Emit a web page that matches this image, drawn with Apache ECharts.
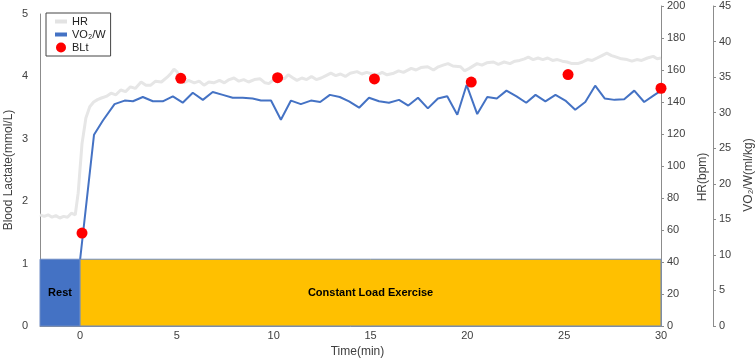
<!DOCTYPE html>
<html>
<head>
<meta charset="utf-8">
<script src="https://cdn.jsdelivr.net/npm/echarts@6/dist/echarts.min.js"></script>
<style>
  html, body { margin: 0; padding: 0; background: #fff; }
  #chart { width: 755px; height: 360px; }
</style>
</head>
<body>
<div id="chart"></div>
<script>
// time (min), heart rate (bpm)
var hrData = [
  [-2.07,69.5],[-1.85,68.5],[-1.65,69.5],[-1.45,68],[-1.25,69],[-1.05,67.5],[-0.85,68.5],[-0.65,68],[-0.45,70.5],[-0.25,69.5],
  [-0.1,83],[0.1,114],[0.3,130],[0.5,137],[0.7,140],[0.9,141.5],[1.1,142.5],[1.35,143.5],[1.6,145.5],[1.85,144.5],
  [2.1,147.5],[2.35,146.5],[2.6,149.5],[2.85,148.5],[3.15,152.5],[3.4,150.5],[3.65,150.5],[3.9,153],[4.2,152.5],[4.5,155.5],
  [4.7,158],[4.85,160.5],[5.0,159],[5.15,156],[5.35,152],[5.6,153.5],[5.9,152],[6.15,153],[6.4,150.5],[6.65,152.5],
  [6.9,152],[7.2,153.5],[7.45,152],[7.7,154],[7.95,155],[8.2,153],[8.45,154],[8.7,152.5],[9.0,154],[9.3,154.5],
  [9.55,152],[9.75,151.5],[10.0,154],[10.3,155.5],[10.55,154.5],[10.75,157],[11.0,155],[11.2,153.5],[11.45,155],[11.7,154],
  [11.95,156],[12.2,154],[12.45,155],[12.7,156.5],[12.95,158],[13.2,156.5],[13.45,157.5],[13.7,156],[13.95,158],[14.3,159],
  [14.55,157.5],[14.8,158.5],[15.1,157.5],[15.35,157],[15.6,158.5],[15.85,157],[16.2,158],[16.45,159.5],[16.7,158.5],[17.1,161],
  [17.35,160],[17.6,161.5],[17.95,162],[18.25,160],[18.5,162],[18.75,163],[19.0,164],[19.25,162.5],[19.65,162],[19.85,159.5],
  [20.1,161],[20.5,164],[20.75,163],[21.0,164.5],[21.35,165],[21.6,163.5],[21.9,165],[22.2,164],[22.45,165.5],[22.7,166],
  [22.95,167],[23.15,168],[23.4,166.5],[23.65,167.5],[23.9,166.5],[24.15,167.5],[24.4,166],[24.65,166.5],[24.9,165.5],[25.15,165],
  [25.4,164],[25.7,164],[25.95,165],[26.2,166.5],[26.45,166],[26.7,167.5],[26.95,169],[27.2,170.5],[27.45,169],[27.7,168],
  [27.95,167],[28.25,166.5],[28.5,165.5],[28.75,166.5],[29.0,166],[29.3,167.5],[29.6,168.5],[29.8,167],[30,167.5]
];

// time (min), VO2/W (ml/kg)
var vo2Data = [
  [0,9.3],[0.72,26.9],[1.18,28.9],[1.78,31.2],[2.3,31.7],[2.73,31.6],[3.24,32.2],[3.76,31.6],[4.27,31.6],[4.79,32.3],
  [5.3,31.4],[5.82,32.8],[6.34,31.8],[6.85,32.9],[7.37,32.5],[7.88,32.1],[8.4,32.1],[8.91,32.0],[9.34,31.7],[9.86,31.7],
  [10.37,29.0],[10.89,31.7],[11.4,31.2],[11.92,31.7],[12.4,31.5],[12.9,32.5],[13.41,32.2],[13.89,31.6],[14.41,30.7],[14.92,32.1],
  [15.44,31.6],[15.95,31.4],[16.47,31.8],[16.95,31.0],[17.45,32.1],[17.96,30.6],[18.48,32.0],[18.96,32.3],[19.48,29.7],[19.96,33.9],
  [20.51,29.8],[21.03,32.2],[21.52,32.0],[22.02,33.1],[22.54,32.3],[23.04,31.4],[23.52,32.5],[24.03,31.6],[24.55,32.5],[25.06,31.7],
  [25.57,30.4],[26.09,31.5],[26.6,33.8],[27.09,32.0],[27.6,31.8],[28.1,31.9],[28.62,33.1],[29.13,31.5],[29.61,32.4],[30,33.1]
];

// time (min), blood lactate (mmol/L)
var bltData = [[0.1,1.49],[5.2,3.97],[10.2,3.98],[15.2,3.96],[20.2,3.91],[25.2,4.03],[30,3.81]];

// phase boxes: start, end, height (mmol/L)
var phaseData = [[-2.07, 0, 1.07], [0, 30, 1.07]];
var phaseNames = ['Rest', 'Constant Load Exercise'];
var phaseColors = ['#4472C4', '#FFC000'];

var xTicks = [0, 5, 10, 15, 20, 25, 30];

var FONT = 'Liberation Sans, Arial, sans-serif';
var TXT = '#404040';
var AX = '#8c8c8c';
var BAR_ICON = 'path://M0,0 L12,0 L12,4 L0,4 Z';

var chart = echarts.init(document.getElementById('chart'));

var xBase = {
  type: 'value', min: -2.07, max: 30,
  splitLine: { show: false }
};

chart.setOption({
  animation: false,
  textStyle: { fontFamily: FONT },
  grid: [
    { left: 40, right: 94, top: 14, bottom: 34, outerBoundsMode: 'none' },
    { left: 40, right: 94, top: 6, bottom: 34, outerBoundsMode: 'none' }
  ],
  legend: {
    orient: 'vertical', left: 46, top: 13,
    borderColor: '#444', borderWidth: 1, borderRadius: 0,
    backgroundColor: '#fff',
    padding: [3, 5, 3, 9], itemGap: 2,
    itemWidth: 12, itemHeight: 10,
    textStyle: { fontFamily: FONT, fontSize: 11, color: '#222' },
    data: [
      { name: 'HR', icon: BAR_ICON, itemStyle: { color: '#e3e3e3' } },
      { name: 'VO₂/W', icon: BAR_ICON, itemStyle: { color: '#4472C4' } },
      { name: 'BLt', icon: 'circle' }
    ]
  },
  xAxis: [
    Object.assign({}, xBase, {
      gridIndex: 0,
      name: 'Time(min)', nameLocation: 'middle', nameGap: 19,
      nameTextStyle: { fontFamily: FONT, fontSize: 12, color: TXT, padding: [0, 0, 0, 14] },
      axisLine: { show: true, onZero: false, lineStyle: { color: AX } },
      axisTick: { show: false },
      axisLabel: { customValues: xTicks, fontFamily: FONT, fontSize: 11, color: TXT, margin: 4 }
    }),
    Object.assign({}, xBase, {
      gridIndex: 1, show: false
    })
  ],
  yAxis: [
    {
      type: 'value', gridIndex: 0, position: 'left', min: 0, max: 5, interval: 1,
      name: 'Blood Lactate(mmol/L)', nameLocation: 'middle', nameGap: 25,
      nameMoveOverlap: false,
      nameTextStyle: { fontFamily: FONT, fontSize: 12, color: TXT },
      axisLine: { show: true, onZero: false, lineStyle: { color: AX } },
      axisTick: { show: false },
      splitLine: { show: false },
      axisLabel: { fontFamily: FONT, fontSize: 11, color: TXT, margin: 12 }
    },
    {
      type: 'value', gridIndex: 1, position: 'right', min: 0, max: 200, interval: 20,
      name: 'HR(bpm)', nameLocation: 'middle', nameGap: 35,
      nameTextStyle: { fontFamily: FONT, fontSize: 12, color: TXT, padding: [0, 22, 0, 0] },
      axisLine: { show: true, onZero: false, lineStyle: { color: AX } },
      axisTick: { show: true, length: 3, lineStyle: { color: AX } },
      splitLine: { show: false },
      axisLabel: { fontFamily: FONT, fontSize: 11, color: TXT, margin: 6 }
    },
    {
      type: 'value', gridIndex: 1, position: 'right', offset: 52, min: 0, max: 45, interval: 5,
      name: 'VO₂/W(ml/kg)', nameLocation: 'middle', nameGap: 30,
      nameTextStyle: { fontFamily: FONT, fontSize: 12, color: TXT, padding: [0, 18, 0, 0] },
      axisLine: { show: true, onZero: false, lineStyle: { color: AX } },
      axisTick: { show: true, length: 3, lineStyle: { color: AX } },
      splitLine: { show: false },
      axisLabel: { fontFamily: FONT, fontSize: 11, color: TXT, margin: 6 }
    }
  ],
  series: [
    {
      name: 'HR', type: 'line', xAxisIndex: 1, yAxisIndex: 1,
      data: hrData, symbol: 'none', z: 2,
      lineStyle: { color: '#e6e6e6', width: 3 },
      itemStyle: { color: '#e6e6e6' }
    },
    {
      name: 'VO₂/W', type: 'line', xAxisIndex: 1, yAxisIndex: 2,
      data: vo2Data, symbol: 'none', z: 3,
      lineStyle: { color: '#4472C4', width: 2 },
      itemStyle: { color: '#4472C4' }
    },
    {
      name: 'phase', type: 'custom', xAxisIndex: 0, yAxisIndex: 0, z: 4,
      data: phaseData,
      renderItem: function (params, api) {
        var p0 = api.coord([api.value(0), api.value(2)]);
        var p1 = api.coord([api.value(1), 0]);
        var w = p1[0] - p0[0], h = p1[1] - p0[1];
        return {
          type: 'group',
          children: [
            {
              type: 'rect',
              shape: { x: p0[0], y: p0[1], width: w, height: h },
              style: { fill: phaseColors[params.dataIndex], stroke: '#6d8bc4', lineWidth: 1 }
            },
            {
              type: 'text', x: p0[0] + w / 2, y: p0[1] + h / 2,
              style: {
                text: phaseNames[params.dataIndex], fill: '#000',
                font: 'bold 11px ' + FONT, align: 'center', verticalAlign: 'middle'
              }
            }
          ]
        };
      }
    },
    {
      name: 'BLt', type: 'scatter', xAxisIndex: 0, yAxisIndex: 0, z: 5,
      data: bltData, symbol: 'circle', symbolSize: 11,
      itemStyle: { color: '#ff0000', opacity: 1 }
    }
  ]
});
</script>
</body>
</html>
